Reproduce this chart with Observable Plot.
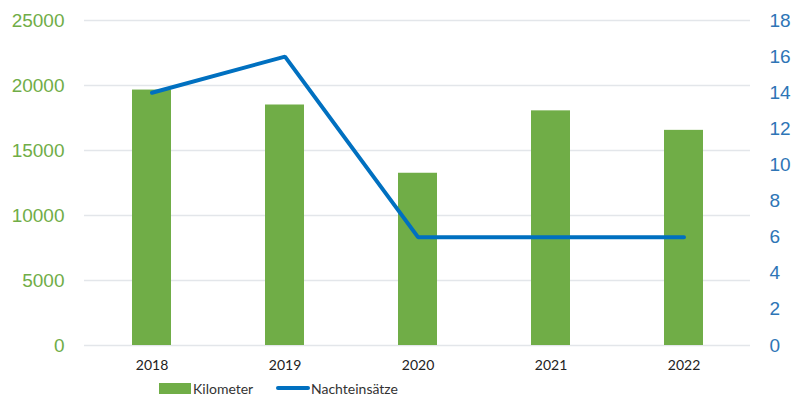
<!DOCTYPE html>
<html>
<head>
<meta charset="utf-8">
<script src="https://cdn.jsdelivr.net/npm/d3@7"></script>
<script src="https://cdn.jsdelivr.net/npm/@observablehq/plot@0.6"></script>
<style>
  body { margin: 0; background: #fff; }
  #wrap { position: relative; width: 798px; height: 400px; }
  .legend { position: absolute; top: 378px; left: 0; width: 798px; height: 20px; font-family: Lato, "Open Sans", sans-serif; font-size: 14px; color: #333; }
  .item { position: absolute; top: 0; display: flex; align-items: center; height: 20px; }
  .sw-bar { width: 32px; height: 11px; background: #70ad47; margin-right: 2px; }
  .sw-line { width: 34px; height: 4px; background: #0070c0; border-radius: 2px; margin-right: 1px; }
</style>
</head>
<body>
<div id="wrap">
  <div id="chart"></div>
  <div class="legend">
    <div class="item" style="left:159px"><div class="sw-bar"></div><span>Kilometer</span></div>
    <div class="item" style="left:276px"><div class="sw-line"></div><span>Nachteinsätze</span></div>
  </div>
</div>
<script>
const years = ["2018", "2019", "2020", "2021", "2022"];
const kilometer = [19650, 18500, 13250, 18050, 16550];
const nachteinsaetze = [14, 16, 6, 6, 6];
const leftTicks = [0, 5000, 10000, 15000, 20000, 25000];
const rightTicks = [0, 2, 4, 6, 8, 10, 12, 14, 16, 18];

const leftMax = 25000, rightMax = 18;
const k = leftMax / rightMax;

const barData = years.map((y, i) => ({year: y, km: kilometer[i]}));
const lineData = years.map((y, i) => ({year: y, n: nachteinsaetze[i] * k}));

const chart = Plot.plot({
  width: 798,
  height: 375,
  marginTop: 20,
  marginBottom: 30,
  marginLeft: 84,
  marginRight: 48,
  style: {fontFamily: "'Liberation Sans', Arial, sans-serif", background: "#fff"},
  x: {domain: years, paddingInner: 0.71, paddingOuter: 0.355, label: null},
  y: {domain: [0, leftMax], label: null},
  marks: [
    Plot.gridY(leftTicks, {stroke: "#e3e6ea", strokeOpacity: 1, strokeWidth: 1.5}),
    Plot.barY(barData, {x: "year", y: "km", fill: "#70ad47"}),
    Plot.line(lineData, {x: "year", y: "n", stroke: "#0070c0", strokeWidth: 4, strokeLinejoin: "miter"}),
    Plot.axisY({ticks: leftTicks, tickFormat: d => String(d), tickSize: 0, tickPadding: 20, fill: "#70ad47", fontSize: 19, fontFamily: "'Liberation Sans', Arial, sans-serif", label: null}),
    Plot.axisY({anchor: "right", ticks: rightTicks.map(t => t * k), tickFormat: d => String(Math.round(d / k)), tickSize: 0, tickPadding: 19, fill: "#2e75b6", fontSize: 19, fontFamily: "'Liberation Sans', Arial, sans-serif", label: null}),
    Plot.axisX({tickSize: 0, tickPadding: 15, fontSize: 14, fill: "#222", fontFamily: "Lato, sans-serif", label: null})
  ]
});
document.getElementById("chart").appendChild(chart);
</script>
</body>
</html>
